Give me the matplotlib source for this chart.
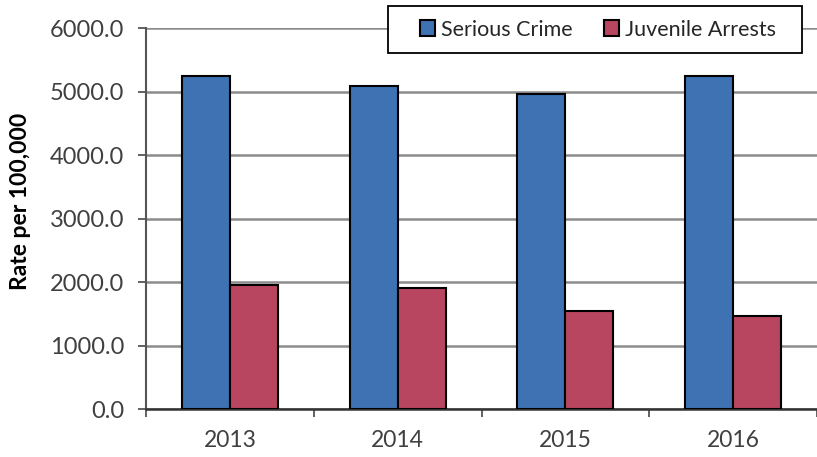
import matplotlib.pyplot as plt
from matplotlib.patches import Rectangle
import numpy as np

years = ['2013', '2014', '2015', '2016']
serious_crime = [5240, 5085, 4955, 5238]
juvenile_arrests = [1950, 1905, 1542, 1465]
yticks = [0, 1000, 2000, 3000, 4000, 5000, 6000]

plt.rcParams['font.family'] = ['Lato', 'DejaVu Sans']

W, H = 817, 457
fig = plt.figure(figsize=(W / 100, H / 100), dpi=100)
ax = fig.add_axes([146 / W, 1 - 409 / H, 1 - 146 / W, (409 - 28) / H])

x = np.arange(len(years))
w = 0.286
ax.bar(x - w / 2, serious_crime, w, color='#3F72B3', edgecolor='black',
       linewidth=1.5, label='Serious Crime', zorder=3)
ax.bar(x + w / 2, juvenile_arrests, w, color='#B84660', edgecolor='black',
       linewidth=1.5, label='Juvenile Arrests', zorder=3)

ax.set_xlim(-0.5, len(years) - 0.5)
ax.set_ylim(0, 6000)
ax.set_yticks(yticks)
ax.set_yticklabels(['{:.1f}'.format(v) for v in yticks])
ax.set_xticks(x)
ax.set_xticklabels(years)
ax.set_xticks(np.arange(len(years) + 1) - 0.5, minor=True)
ax.tick_params(axis='x', which='major', length=0, pad=15, labelsize=16.5, labelcolor='#404040')
ax.tick_params(axis='x', which='minor', length=5.5, width=1.3, color='#555555', direction='out')
ax.tick_params(axis='y', length=5.5, width=1.3, color='#555555', direction='out',
               labelsize=17, labelcolor='#404040', pad=10)

ax.yaxis.grid(True, color='#8c8c8c', linewidth=1.8, zorder=0)
ax.set_axisbelow(True)
for s in ['top', 'right']:
    ax.spines[s].set_visible(False)
ax.spines['left'].set_color('#555555')
ax.spines['left'].set_linewidth(1.5)
ax.spines['bottom'].set_color('#333333')
ax.spines['bottom'].set_linewidth(1.8)

ax.set_ylabel('Rate per 100,000', fontsize=16.5, fontweight='bold')
ax.yaxis.set_label_coords(-0.171, 0.545)

# legend box drawn separately so its padding can match the original
fig.patches.append(Rectangle((388 / W, 1 - 53 / H), (802 - 388) / W, 47 / H,
                             transform=fig.transFigure, facecolor='white',
                             edgecolor='black', linewidth=1.3, zorder=4))
handles, labels = ax.get_legend_handles_labels()
leg = fig.legend(handles, labels, loc='center', bbox_to_anchor=(598 / W, 1 - 29.5 / H),
                 ncol=2, fontsize=15.5, frameon=False, handlelength=0.7,
                 handleheight=0.7, handletextpad=0.28, columnspacing=1.45,
                 borderpad=0, borderaxespad=0)
leg.set_zorder(5)
for t in leg.get_texts():
    t.set_color('#262626')

plt.savefig('out.png', dpi=100)
